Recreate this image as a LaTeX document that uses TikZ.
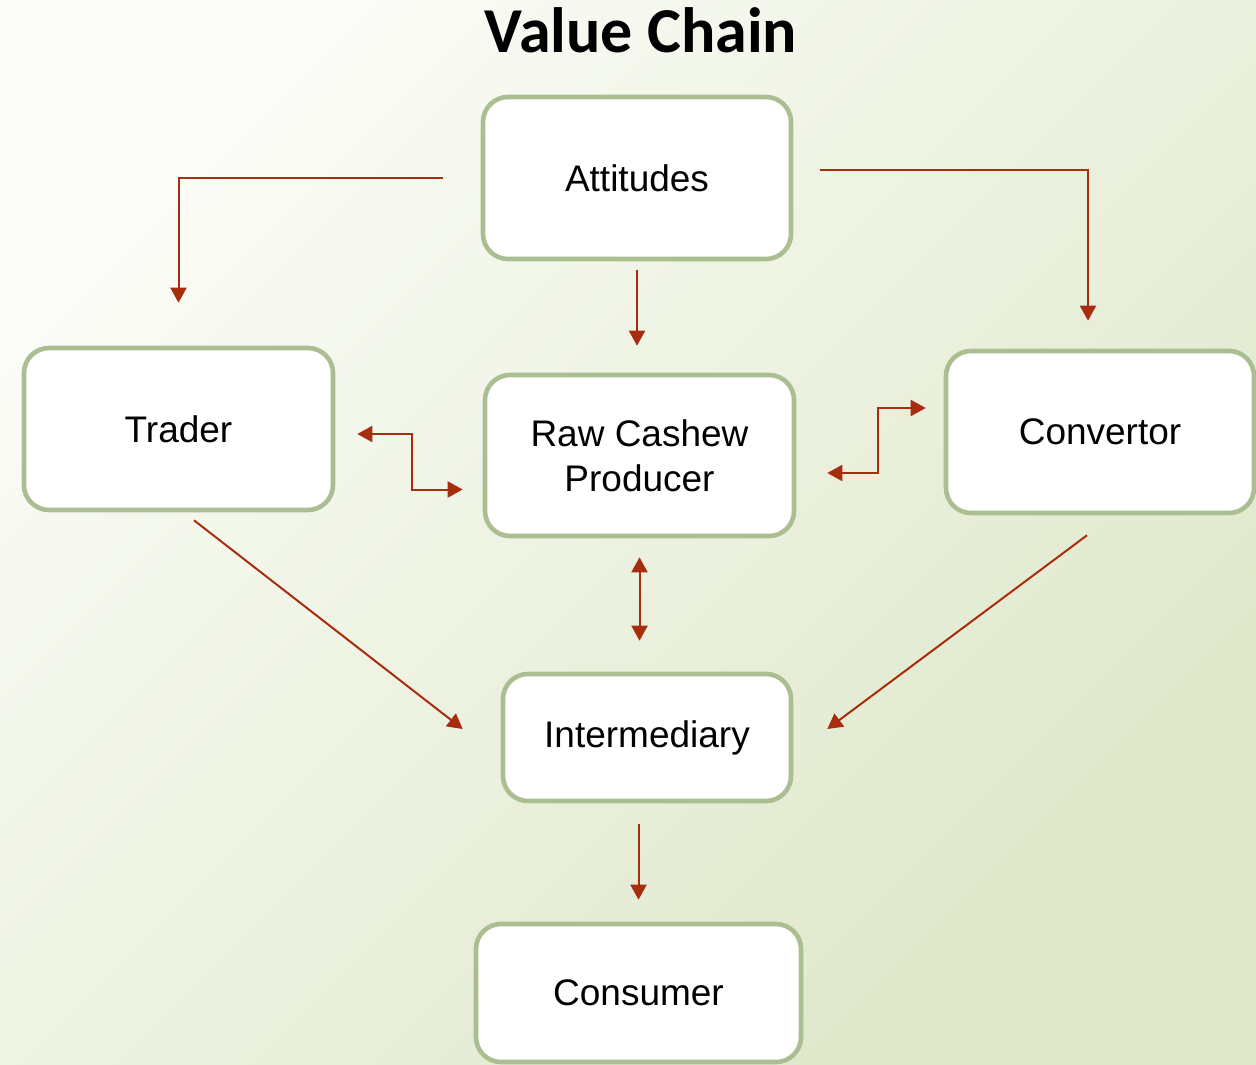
\documentclass[tikz,border=0pt]{standalone}
\usepackage{fontspec}
\setmainfont{Liberation Sans}
\newfontfamily\titlefont{Carlito}
\usetikzlibrary{arrows.meta}

\definecolor{boxline}{RGB}{170,190,146}
\definecolor{arrowred}{RGB}{168,44,14}
\definecolor{bgpale}{RGB}{251,252,247}
\definecolor{bggreen}{RGB}{222,231,201}

\tikzset{
  stage/.style={draw=boxline, line width=2.3pt, fill=white, rounded corners=12.5pt,
    align=center, font=\fontsize{18.5}{22.5}\selectfont},
  flow/.style={draw=arrowred, line width=1pt, -{Triangle[length=7.5pt,width=8pt]}},
  twoway/.style={flow, {Triangle[length=7.5pt,width=8pt]}-{Triangle[length=7.5pt,width=8pt]}},
}

\begin{document}
\begin{tikzpicture}[x=0.5pt,y=-0.5pt]
    % Fundo
    \useasboundingbox (0,0) rectangle (1256,1064);
    \shade[left color=bgpale, right color=bggreen, shading angle=45] (0,0) rectangle (1256,1064);

    \node[anchor=base, font=\titlefont\bfseries\fontsize{32}{36}\selectfont] (title) at (641,53) {Value Chain};

    % Etapas
    \node[stage, minimum width=154pt, minimum height=81pt] (att) at (637,178) {Attitudes};
    \node[stage, minimum width=154.5pt, minimum height=81pt] (trader) at (178.5,429) {Trader};
    \node[stage, minimum width=154.5pt, minimum height=80.5pt] (raw) at (639.5,455.5) {Raw Cashew\\Producer};
    \node[stage, minimum width=154pt, minimum height=81pt] (conv) at (1100,432) {Convertor};
    \node[stage, minimum width=144pt, minimum height=63.5pt] (inter) at (647,737.5) {Intermediary};
    \node[stage, minimum width=162.5pt, minimum height=69pt] (cons) at (638.5,993) {Consumer};

    % Ligacoes
    \draw[flow, shorten <=19pt, shorten >=21.5pt] (att.west) -| (trader.north);
    \draw[flow, shorten <=13.5pt, shorten >=14pt] ([yshift=4pt]att.east) -| ([xshift=-6pt]conv.north);
    \draw[flow, shorten <=4.5pt, shorten >=13.5pt] (att.south) -- (att.south |- raw.north);
    \draw[twoway] ([shift={(11pt,-2.5pt)}]trader.east) -- ++(27.5pt,0) |- ([shift={(-10pt,-17pt)}]raw.west);
    \draw[twoway] ([shift={(15.5pt,-8.75pt)}]raw.east) -- ++(25.5pt,0) |- ([shift={(-9pt,12pt)}]conv.west);
    \draw[twoway, shorten <=9.5pt, shorten >=15.5pt] (raw.south) -- (raw.south |- inter.north);
    \draw[flow] ([shift={(7.75pt,-4pt)}]trader.south) -- ([shift={(-19pt,4.25pt)}]inter.west);
    \draw[flow] ([shift={(-6.5pt,-10pt)}]conv.south) -- ([shift={(17pt,4.25pt)}]inter.east);
    \draw[flow, shorten <=10.5pt, shorten >=11pt] (cons.north |- inter.south) -- (cons.north);
\end{tikzpicture}
\end{document}
